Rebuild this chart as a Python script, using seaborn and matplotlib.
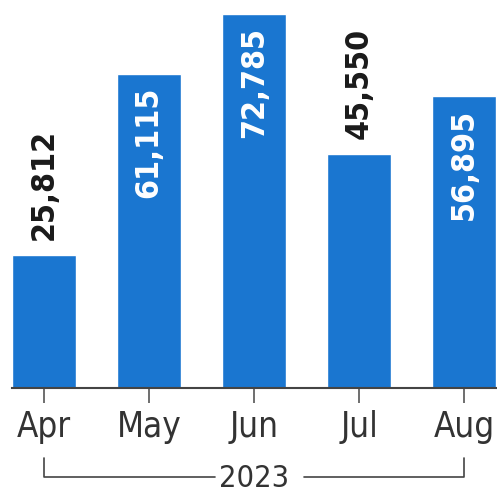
import matplotlib
matplotlib.use("Agg")
import matplotlib.pyplot as plt
import seaborn as sns
import pandas as pd

# Monthly values, 2023
months = ["Apr", "May", "Jun", "Jul", "Aug"]
values = [25812, 61115, 72785, 45550, 56895]
inside = [False, True, True, False, True]   # label drawn inside the bar
year_label = "2023"

BLUE = "#1a76d0"
DARK = "#333333"


def make_chart():
    sns.set_theme(style="white")
    plt.rcParams["font.family"] = ["DejaVu Sans"]

    df = pd.DataFrame({"month": months, "value": values})

    fig = plt.figure(figsize=(4.97, 4.92), dpi=100)
    ax = fig.add_axes([12 / 497, 104 / 492, 485 / 497, 388 / 492])

    sns.barplot(data=df, x="month", y="value", color=BLUE, width=0.61,
                saturation=1, ax=ax)

    ax.set_xlim(-0.305, 4.31)
    ax.set_ylim(0, 72785 * 388 / 374)

    # value labels, rotated
    for i, (v, inn) in enumerate(zip(values, inside)):
        if inn:
            ax.annotate(f"{v:,}", (i, v), xytext=(0, -13), textcoords="offset pixels",
                        rotation=90, ha="center", va="top", color="white",
                        fontsize=23, fontweight="bold", fontstretch="condensed")
        else:
            ax.annotate(f"{v:,}", (i, v), xytext=(0, 15), textcoords="offset pixels",
                        rotation=90, ha="center", va="bottom", color="#1a1a1a",
                        fontsize=23, fontweight="bold", fontstretch="condensed")

    sns.despine(ax=ax, left=True)
    ax.spines["bottom"].set_color("#444444")
    ax.spines["bottom"].set_linewidth(1.5)
    ax.set_yticks([])
    ax.set_xlabel("")
    ax.set_ylabel("")
    ax.tick_params(axis="x", length=11, width=1.2, color="#555555", pad=5,
                   labelcolor=DARK, bottom=True)
    for lab in ax.get_xticklabels():
        lab.set_fontstretch("condensed")
        lab.set_fontsize(25)

    # year bracket under the month labels
    tr = ax.get_xaxis_transform()
    yb = -89 / 388
    yt = -70 / 388
    ax.plot([0, 0, 1.63], [yt, yb, yb], transform=tr, color="#444444", lw=1.2, clip_on=False)
    ax.plot([2.47, 4, 4], [yb, yb, yt], transform=tr, color="#444444", lw=1.2, clip_on=False)
    ax.text(2, yb - 0.005, year_label, transform=tr, ha="center", va="center",
            fontsize=22, color=DARK, fontstretch="condensed")

    fig.savefig("out.png", dpi=100)


if __name__ == "__main__":
    make_chart()
